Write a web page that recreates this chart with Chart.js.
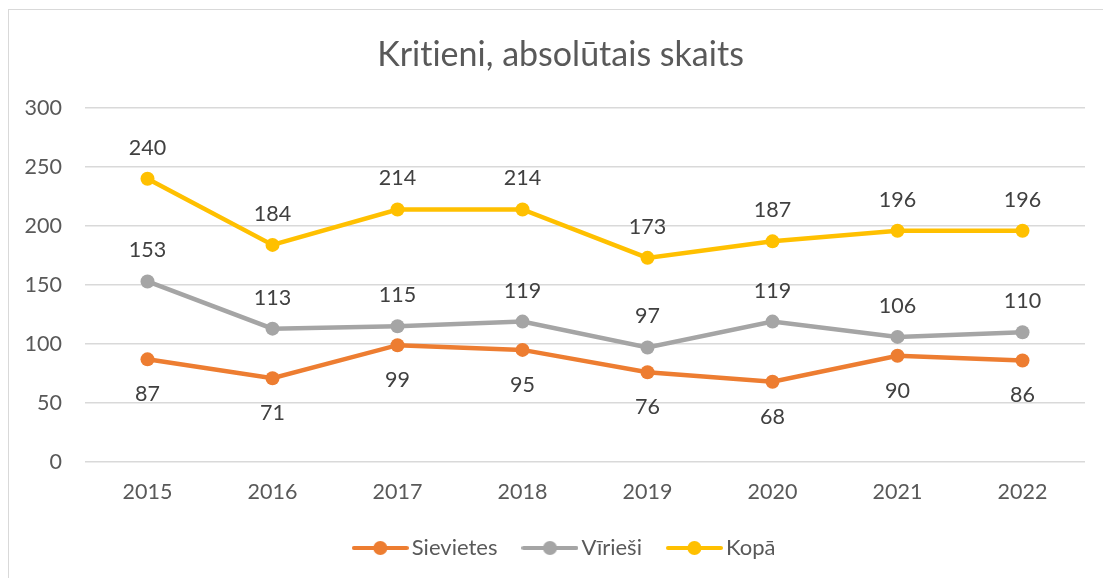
<!DOCTYPE html>
<html>
<head>
<meta charset="utf-8">
<script src="https://cdn.jsdelivr.net/npm/chart.js@4"></script>
<style>
  html, body { margin: 0; padding: 0; background: #fff; overflow: hidden; }
  #wrap { position: relative; width: 1103px; height: 578px; }
  #frame { position: absolute; left: 8px; top: 9px; width: 1200px; height: 700px;
           border-left: 1.5px solid #d9d9d9; border-top: 1.5px solid #d9d9d9; pointer-events: none; }
  canvas { position: absolute; left: 0; top: 0; font-variant-ligatures: none; }
</style>
</head>
<body>
<div id="wrap">
  <canvas id="c" width="1103" height="578"></canvas>
  <div id="frame"></div>
</div>
<script>
const categories = ['2015', '2016', '2017', '2018', '2019', '2020', '2021', '2022'];
const sievietes = [87, 71, 99, 95, 76, 68, 90, 86];
const virriesi = [153, 113, 115, 119, 97, 119, 106, 110];
const kopa = [240, 184, 214, 214, 173, 187, 196, 196];
const seriesNames = ['Sievietes', 'Vīrieši', 'Kopā'];
const seriesColors = ['#ED7D31', '#A5A5A5', '#FFC000'];
const labelSide = ['below', 'above', 'above'];
const yTicks = [0, 50, 100, 150, 200, 250, 300];

const FONT = 'Lato, "Liberation Sans", sans-serif';
const TXT = '#595959';

function legendIcon(color) {
  const cv = document.createElement('canvas');
  cv.width = 57; cv.height = 16;
  const g = cv.getContext('2d');
  g.strokeStyle = color; g.lineWidth = 4; g.lineCap = 'round';
  g.beginPath(); g.moveTo(2, 8); g.lineTo(55, 8); g.stroke();
  g.fillStyle = color;
  g.beginPath(); g.arc(28.5, 8, 7, 0, Math.PI * 2); g.fill();
  return cv;
}
const icons = seriesColors.map(legendIcon);

// centre title and legend on the full original chart frame (which extends past the crop)
const shiftBlocks = {
  id: 'shiftBlocks',
  afterLayout(chart) {
    if (chart.titleBlock) { chart.titleBlock.left += 18; chart.titleBlock.right += 18; }
    if (chart.legend) { chart.legend.left += 25; chart.legend.right += 25; }
  },
  beforeDraw(chart) {
    const ctx = chart.ctx;
    try { ctx.textRendering = 'optimizeSpeed'; } catch (e) {}
    try { ctx.letterSpacing = '0.01px'; } catch (e) {}
  }
};

const dataLabels = {
  id: 'dataLabels',
  afterDatasetsDraw(chart) {
    const ctx = chart.ctx;
    ctx.save();
    ctx.font = '21.5px ' + FONT;
    ctx.fillStyle = '#404040';
    ctx.textAlign = 'center';
    ctx.textBaseline = 'middle';
    chart.data.datasets.forEach((ds, i) => {
      const meta = chart.getDatasetMeta(i);
      meta.data.forEach((pt, j) => {
        const dy = labelSide[i] === 'above' ? -31 : 35;
        ctx.fillText(String(ds.data[j]), pt.x, pt.y + dy);
      });
    });
    ctx.restore();
  }
};

const seriesData = [sievietes, virriesi, kopa];
new Chart(document.getElementById('c'), {
  type: 'line',
  data: {
    labels: categories,
    datasets: seriesNames.map((n, i) => ({
      label: n,
      data: seriesData[i],
      borderColor: seriesColors[i],
      backgroundColor: seriesColors[i],
      borderWidth: 4.5,
      pointRadius: 7,
      pointHoverRadius: 7,
      pointBorderWidth: 0,
      pointStyle: 'circle',
      tension: 0,
      fill: false
    }))
  },
  options: {
    responsive: false,
    animation: false,
    layout: { padding: { top: 10, right: 18, bottom: 9, left: 0 } },
    scales: {
      x: {
        offset: true,
        grid: { display: false, drawTicks: false },
        border: { display: false },
        ticks: { color: TXT, font: { family: FONT, size: 21.5 }, padding: 17 },
        afterFit(s) { s.height = 43; }
      },
      y: {
        min: 0, max: 300,
        afterBuildTicks(s) { s.ticks = yTicks.map(v => ({ value: v })); },
        grid: { color: '#d9d9d9', lineWidth: 1.5, drawTicks: false },
        border: { display: false },
        ticks: { color: TXT, font: { family: FONT, size: 21.5 }, padding: 23 },
        afterFit(s) { s.width = 85; }
      }
    },
    plugins: {
      title: {
        display: true,
        text: 'Kritieni, absolūtais skaits',
        color: TXT,
        font: { family: FONT, size: 34, weight: 'normal' },
        padding: { top: 24.6, bottom: 32.6 }
      },
      legend: {
        position: 'bottom',
        labels: {
          usePointStyle: true,
          pointStyleWidth: 41,
          color: TXT,
          font: { family: FONT, size: 22 },
          padding: 32,
          generateLabels(chart) {
            const items = Chart.defaults.plugins.legend.labels.generateLabels(chart);
            items.forEach((it) => { it.pointStyle = icons[it.datasetIndex]; });
            return items;
          }
        }
      },
      tooltip: { enabled: false }
    }
  },
  plugins: [dataLabels, shiftBlocks]
});
</script>
</body>
</html>
